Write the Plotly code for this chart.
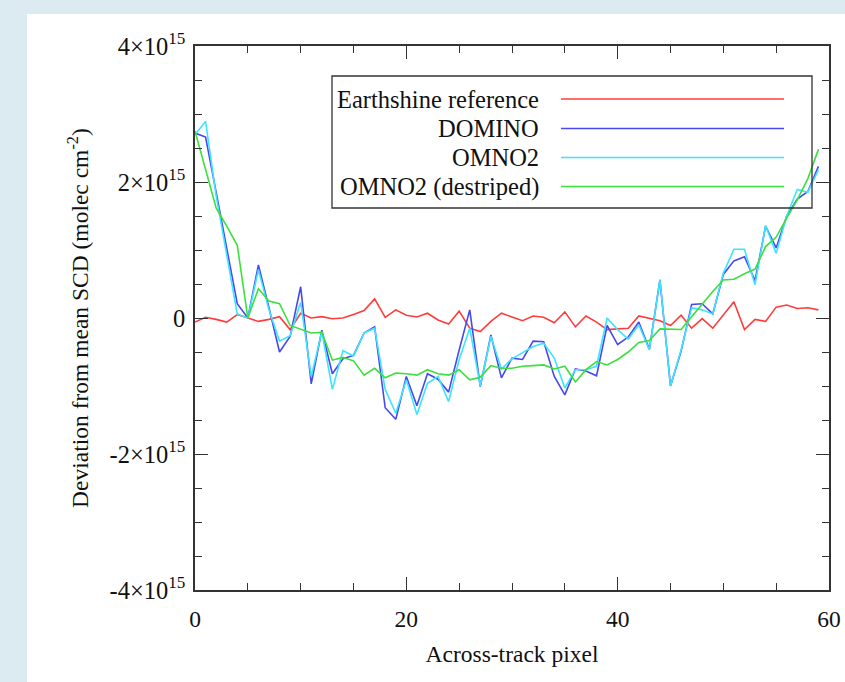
import numpy as np
import plotly.graph_objects as go

pixels = list(range(60))

earthshine = [-0.06, 0.01, -0.02, -0.06, 0.05, 0.0, -0.05, -0.02, 0.02, -0.17,
              0.07, 0.0, 0.02, -0.01, 0.0, 0.05, 0.11, 0.28, 0.01, 0.12,
              0.04, 0.015, 0.07, -0.03, -0.09, 0.1, -0.15, -0.2, -0.05, 0.07,
              0.01, -0.04, 0.03, 0.01, -0.07, 0.09, -0.13, 0.03, -0.06, -0.17,
              -0.16, -0.15, 0.03, 0.0, -0.04, -0.11, 0.04, -0.15, -0.01, -0.15,
              0.05, 0.24, -0.17, -0.02, -0.05, 0.16, 0.19, 0.14, 0.15, 0.12]

domino = [2.72, 2.66, 1.85, 1.0, 0.21, 0.0, 0.78, 0.15, -0.50, -0.27,
          0.46, -0.97, -0.18, -0.82, -0.60, -0.55, -0.22, -0.13, -1.32, -1.49,
          -0.86, -1.29, -0.82, -0.90, -1.09, -0.47, 0.12, -1.01, -0.25, -0.88,
          -0.59, -0.61, -0.34, -0.35, -0.86, -1.13, -0.75, -0.78, -0.85, -0.11,
          -0.39, -0.28, -0.06, -0.46, 0.56, -1.0, -0.49, 0.2, 0.21, 0.06,
          0.64, 0.84, 0.9, 0.55, 1.35, 1.03, 1.5, 1.75, 1.86, 2.23]

omno2 = [2.70, 2.89, 1.8, 0.9, 0.06, 0.0, 0.71, 0.12, -0.34, -0.26,
         0.23, -0.86, -0.20, -1.05, -0.48, -0.56, -0.22, -0.15, -1.05, -1.40,
         -0.91, -1.42, -0.96, -0.86, -1.23, -0.61, -0.15, -1.0, -0.27, -0.75,
         -0.60, -0.51, -0.42, -0.37, -0.59, -1.03, -0.76, -0.76, -0.71, 0.0,
         -0.17, -0.31, -0.10, -0.47, 0.56, -1.0, -0.47, 0.15, 0.12, 0.06,
         0.66, 1.01, 1.01, 0.49, 1.36, 0.95, 1.5, 1.89, 1.85, 2.18]

omno2_destriped = [2.75, 2.2, 1.62, 1.35, 1.07, 0.0, 0.43, 0.25, 0.21, -0.11,
                   -0.17, -0.22, -0.21, -0.62, -0.58, -0.63, -0.84, -0.74, -0.88, -0.81,
                   -0.82, -0.84, -0.76, -0.82, -0.84, -0.76, -0.91, -0.87, -0.70, -0.74,
                   -0.74, -0.71, -0.70, -0.69, -0.75, -0.71, -0.94, -0.76, -0.64, -0.69,
                   -0.61, -0.50, -0.36, -0.33, -0.16, -0.16, -0.17, 0.02, 0.21, 0.39,
                   0.56, 0.57, 0.65, 0.72, 1.05, 1.19, 1.47, 1.74, 2.05, 2.48]

series_names = ["Earthshine reference", "DOMINO", "OMNO2", "OMNO2 (destriped)"]
series_colors = ["#ff3c3c", "#4848f0", "#3ce4ff", "#3ce03c"]
series_values = [earthshine, domino, omno2, omno2_destriped]

y_tickvals = [-4, -2, 0, 2, 4]
y_ticktext = ["-4×10<sup>15</sup>", "-2×10<sup>15</sup>", "0",
              "2×10<sup>15</sup>", "4×10<sup>15</sup>"]
x_tickvals = [0, 20, 40, 60]

SCALE = 1e15

W, H = 845, 682
L, R, T, B = 195, 829, 46, 590
pw, ph = R - L, B - T


def px_x(v):
    return (v - L) / pw


def px_y(v):
    return (B - v) / ph


fig = go.Figure()
for name, col, vals in zip(series_names, series_colors, series_values):
    fig.add_trace(go.Scatter(x=pixels, y=np.array(vals) * SCALE, mode="lines",
                             name=name, line=dict(color=col, width=1.6),
                             showlegend=False))

FAM = "Liberation Serif, Times New Roman, serif"
font = dict(family=FAM, size=23.5, color="#111")
yfont = dict(family=FAM, size=24.5, color="#111")
legfont = dict(family=FAM, size=24.5, color="#111")
axis_common = dict(showline=True, linecolor="#333", linewidth=1.5, mirror="allticks",
                   ticks="inside", ticklen=13, tickwidth=1.3, tickcolor="#333",
                   showgrid=False, zeroline=False, automargin=False)

fig.update_xaxes(range=[0, 60], tickvals=x_tickvals, tickfont=font, ticklabelstandoff=7,
                 minor=dict(dtick=5, ticks="inside", ticklen=7, tickwidth=1.3, tickcolor="#333"),
                 title=dict(text="Across-track pixel", font=font, standoff=15),
                 **axis_common)
fig.update_yaxes(range=[-4 * SCALE, 4 * SCALE], tickfont=yfont, ticklabelstandoff=3,
                 tickvals=[v * SCALE for v in y_tickvals], ticktext=y_ticktext,
                 minor=dict(dtick=0.5 * SCALE, ticks="inside", ticklen=7, tickwidth=1.3, tickcolor="#333"),
                 title=dict(text="Deviation from mean SCD (molec cm<sup>-2</sup>)", font=font, standoff=14),
                 **axis_common)

shapes = [dict(type="rect", xref="paper", yref="paper", layer="below",
               x0=px_x(27), x1=px_x(860), y0=px_y(700), y1=px_y(14),
               fillcolor="white", line=dict(width=0))]
# legend box
shapes.append(dict(type="rect", xref="paper", yref="paper",
                   x0=px_x(332), x1=px_x(812), y0=px_y(208), y1=px_y(76),
                   line=dict(color="#333", width=1.3)))
annotations = []
row_y = [99, 128.5, 157.5, 186.5]
for name, col, ry in zip(series_names, series_colors, row_y):
    shapes.append(dict(type="line", xref="paper", yref="paper",
                       x0=px_x(561), x1=px_x(784), y0=px_y(ry), y1=px_y(ry),
                       line=dict(color=col, width=1.6)))
    annotations.append(dict(xref="paper", yref="paper", x=px_x(541), y=px_y(ry),
                            xanchor="right", yanchor="middle", text=name,
                            showarrow=False, font=legfont))

fig.update_layout(width=W, height=H, autosize=False,
                  margin=dict(l=L, r=W - R, t=T, b=H - B, autoexpand=False),
                  paper_bgcolor="#dcebf2", plot_bgcolor="white",
                  shapes=shapes, annotations=annotations, showlegend=False)

fig.write_html("out.html", config=dict(displayModeBar=False, responsive=False),
               post_script="document.body.style.margin='0';document.body.style.overflow='hidden';")
